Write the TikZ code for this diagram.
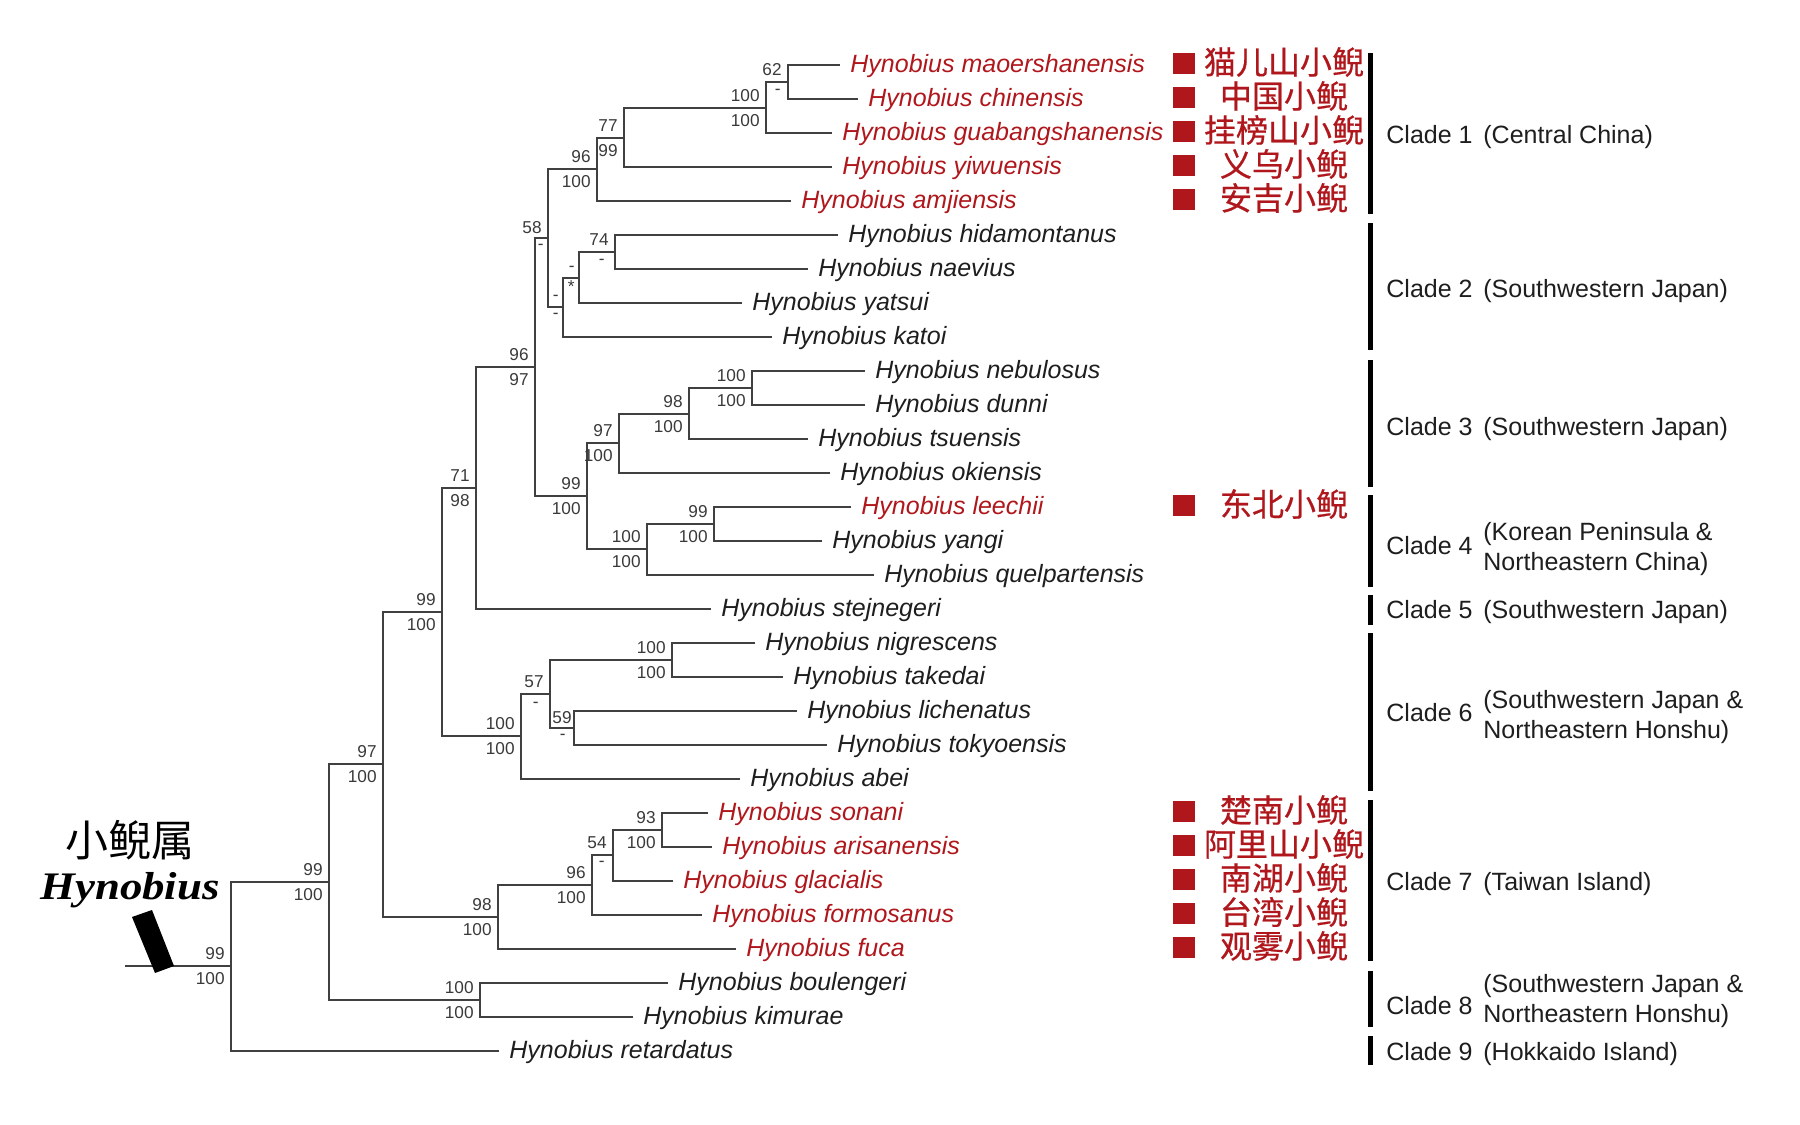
\documentclass[tikz,border=0pt]{standalone}
\usepackage{fontspec}
\setmainfont{Liberation Sans}
\newfontfamily\spfont[WordSpace=1.45]{Liberation Sans}
\newfontfamily\cladefont{Liberation Sans}
\newfontfamily\cnfont{Noto Sans CJK SC}
\newfontfamily\cnbold[FakeBold=0.6]{Noto Sans CJK SC}
\newfontfamily\genfont[FakeStretch=1.15]{Liberation Serif}
\usepackage{tikz}
\usetikzlibrary{calc,positioning}

\definecolor{hred}{HTML}{B0171C}
\definecolor{treegray}{HTML}{404040}
\definecolor{leafblack}{HTML}{1E1E1E}
\definecolor{bsgray}{HTML}{3A3A3A}

\tikzset{
  branch/.style={draw=treegray, line width=0.65pt},
  leaf/.style={anchor=west, inner xsep=5pt, inner ysep=0pt, text height=7pt, text depth=0pt,
    font=\spfont\itshape\fontsize{12.5}{15}\selectfont, text=leafblack},
  rleaf/.style={leaf, text=hred},
  bs/.style={anchor=east, inner sep=0pt, font=\fontsize{8.6}{10}\selectfont, text=bsgray},
  bsu/.style={bs, shift={(-6,-12)}},
  bsl/.style={bs, shift={(-6,13)}},
  cladebar/.style={line width=2.5pt, black},
  cladelab/.style={anchor=west, inner sep=0pt, text height=9pt, text depth=0pt,
    font=\cladefont\fontsize{12.5}{15}\selectfont, text=leafblack},
  cladedesc/.style={anchor=west, inner sep=0pt, align=left,
    font=\cladefont\fontsize{12.5}{15}\selectfont, text=leafblack},
  redsq/.style={fill=hred, minimum width=11pt, minimum height=10.5pt, inner sep=0pt},
  cnlab/.style={inner sep=0pt, font=\cnbold\fontsize{16}{18}\selectfont, text=hred}
}

\begin{document}
\begin{tikzpicture}[x=0.5pt, y=-0.5pt]
\useasboundingbox (0,0) rectangle (1800,1125);

% Internal nodes of the tree
\coordinate (nA) at (788,82);
\coordinate (nB) at (766,108);
\coordinate (nC) at (624,138);
\coordinate (nD) at (597,169);
\coordinate (nE) at (615,252);
\coordinate (nF) at (579,278);
\coordinate (nG) at (563,307);
\coordinate (nH) at (548,238);
\coordinate (nI) at (752,388);
\coordinate (nJ) at (689,414);
\coordinate (nK) at (619,443);
\coordinate (nL) at (714,524);
\coordinate (nM) at (647,549);
\coordinate (nN) at (587,496);
\coordinate (nO) at (535,367);
\coordinate (nP) at (476,488);
\coordinate (nQ) at (672,660);
\coordinate (nR) at (574,728);
\coordinate (nS) at (550,694);
\coordinate (nT) at (521,736);
\coordinate (nU) at (442,612);
\coordinate (nV) at (662,830);
\coordinate (nW) at (613,855);
\coordinate (nX) at (592,885);
\coordinate (nY) at (498,917);
\coordinate (nZ) at (383,764);
\coordinate (nBK) at (480,1000);
\coordinate (nAA) at (329,882);
\coordinate (root) at (231,966);
\coordinate (stem) at (125,966);

% Leaves
\node[rleaf] (maoer) at (840,65) {Hynobius maoershanensis};
\node[rleaf] (chin) at (858,99) {Hynobius chinensis};
\node[rleaf] (guab) at (832,133) {Hynobius guabangshanensis};
\node[rleaf] (yiwu) at (832,167) {Hynobius yiwuensis};
\node[rleaf] (amji) at (791,201) {Hynobius amjiensis};
\node[leaf] (hida) at (838,235) {Hynobius hidamontanus};
\node[leaf] (naev) at (808,269) {Hynobius naevius};
\node[leaf] (yats) at (742,303) {Hynobius yatsui};
\node[leaf] (kato) at (772,337) {Hynobius katoi};
\node[leaf] (nebu) at (865,371) {Hynobius nebulosus};
\node[leaf] (dunn) at (865,405) {Hynobius dunni};
\node[leaf] (tsue) at (808,439) {Hynobius tsuensis};
\node[leaf] (okie) at (830,473) {Hynobius okiensis};
\node[rleaf] (leec) at (851,507) {Hynobius leechii};
\node[leaf] (yang) at (822,541) {Hynobius yangi};
\node[leaf] (quel) at (874,575) {Hynobius quelpartensis};
\node[leaf] (stej) at (711,609) {Hynobius stejnegeri};
\node[leaf] (nigr) at (755,643) {Hynobius nigrescens};
\node[leaf] (take) at (783,677) {Hynobius takedai};
\node[leaf] (lich) at (797,711) {Hynobius lichenatus};
\node[leaf] (toky) at (827,745) {Hynobius tokyoensis};
\node[leaf] (abei) at (740,779) {Hynobius abei};
\node[rleaf] (sona) at (708,813) {Hynobius sonani};
\node[rleaf] (aris) at (712,847) {Hynobius arisanensis};
\node[rleaf] (glac) at (673,881) {Hynobius glacialis};
\node[rleaf] (form) at (702,915) {Hynobius formosanus};
\node[rleaf] (fuca) at (736,949) {Hynobius fuca};
\node[leaf] (boul) at (668,983) {Hynobius boulengeri};
\node[leaf] (kimu) at (633,1017) {Hynobius kimurae};
\node[leaf] (reta) at (499,1051) {Hynobius retardatus};

% Branches
\draw[branch] (nA) |- (maoer.west);
\draw[branch] (nA) |- (chin.west);
\draw[branch] (nB) |- (nA);
\draw[branch] (nB) |- (guab.west);
\draw[branch] (nC) |- (nB);
\draw[branch] (nC) |- (yiwu.west);
\draw[branch] (nD) |- (nC);
\draw[branch] (nD) |- (amji.west);
\draw[branch] (nE) |- (hida.west);
\draw[branch] (nE) |- (naev.west);
\draw[branch] (nF) |- (nE);
\draw[branch] (nF) |- (yats.west);
\draw[branch] (nG) |- (nF);
\draw[branch] (nG) |- (kato.west);
\draw[branch] (nH) |- (nD);
\draw[branch] (nH) |- (nG);
\draw[branch] (nI) |- (nebu.west);
\draw[branch] (nI) |- (dunn.west);
\draw[branch] (nJ) |- (nI);
\draw[branch] (nJ) |- (tsue.west);
\draw[branch] (nK) |- (nJ);
\draw[branch] (nK) |- (okie.west);
\draw[branch] (nL) |- (leec.west);
\draw[branch] (nL) |- (yang.west);
\draw[branch] (nM) |- (nL);
\draw[branch] (nM) |- (quel.west);
\draw[branch] (nN) |- (nK);
\draw[branch] (nN) |- (nM);
\draw[branch] (nO) |- (nH);
\draw[branch] (nO) |- (nN);
\draw[branch] (nP) |- (nO);
\draw[branch] (nP) |- (stej.west);
\draw[branch] (nQ) |- (nigr.west);
\draw[branch] (nQ) |- (take.west);
\draw[branch] (nR) |- (lich.west);
\draw[branch] (nR) |- (toky.west);
\draw[branch] (nS) |- (nQ);
\draw[branch] (nS) |- (nR);
\draw[branch] (nT) |- (nS);
\draw[branch] (nT) |- (abei.west);
\draw[branch] (nU) |- (nP);
\draw[branch] (nU) |- (nT);
\draw[branch] (nV) |- (sona.west);
\draw[branch] (nV) |- (aris.west);
\draw[branch] (nW) |- (nV);
\draw[branch] (nW) |- (glac.west);
\draw[branch] (nX) |- (nW);
\draw[branch] (nX) |- (form.west);
\draw[branch] (nY) |- (nX);
\draw[branch] (nY) |- (fuca.west);
\draw[branch] (nZ) |- (nU);
\draw[branch] (nZ) |- (nY);
\draw[branch] (nBK) |- (boul.west);
\draw[branch] (nBK) |- (kimu.west);
\draw[branch] (nAA) |- (nZ);
\draw[branch] (nAA) |- (nBK);
\draw[branch] (root) |- (nAA);
\draw[branch] (root) |- (reta.west);
\draw[branch] (stem) -- (root);

% Support values
\node[bsu] (bA1) at (nA) {62};
\node[bs, shift={(-7,10)}] (bA2) at (nA) {-};
\node[bsu] (bB1) at (nB) {100};
\node[bsl] (bB2) at (nB) {100};
\node[bsu] (bC1) at (nC) {77};
\node[bsl] (bC2) at (nC) {99};
\node[bsu] (bD1) at (nD) {96};
\node[bsl] (bD2) at (nD) {100};
\node[bsu] (bE1) at (nE) {74};
\node[bs, shift={(-10,10)}] (bE2) at (nE) {-};
\node[bs, shift={(-4,-9)}] (bF1) at (nF) {-};
\node[bs, shift={(-4,9)}] (bF2) at (nF) {*};
\node[bs, shift={(-4,-9)}] (bG1) at (nG) {-};
\node[bs, shift={(-4,9)}] (bG2) at (nG) {-};
\node[bs, shift={(-6,-10)}] (bH1) at (nH) {58};
\node[bs, shift={(-4,9)}] (bH2) at (nH) {-};
\node[bsu] (bI1) at (nI) {100};
\node[bsl] (bI2) at (nI) {100};
\node[bsu] (bJ1) at (nJ) {98};
\node[bsl] (bJ2) at (nJ) {100};
\node[bsu] (bK1) at (nK) {97};
\node[bsl] (bK2) at (nK) {100};
\node[bsu] (bL1) at (nL) {99};
\node[bsl] (bL2) at (nL) {100};
\node[bsu] (bM1) at (nM) {100};
\node[bsl] (bM2) at (nM) {100};
\node[bsu] (bN1) at (nN) {99};
\node[bsl] (bN2) at (nN) {100};
\node[bsu] (bO1) at (nO) {96};
\node[bsl] (bO2) at (nO) {97};
\node[bsu] (bP1) at (nP) {71};
\node[bsl] (bP2) at (nP) {98};
\node[bsu] (bQ1) at (nQ) {100};
\node[bsl] (bQ2) at (nQ) {100};
\node[bs, shift={(-2,-10)}] (bR1) at (nR) {59};
\node[bs, shift={(-8,9)}] (bR2) at (nR) {-};
\node[bsu] (bS1) at (nS) {57};
\node[bs, shift={(-11,11)}] (bS2) at (nS) {-};
\node[bsu] (bT1) at (nT) {100};
\node[bsl] (bT2) at (nT) {100};
\node[bsu] (bU1) at (nU) {99};
\node[bsl] (bU2) at (nU) {100};
\node[bsu] (bV1) at (nV) {93};
\node[bsl] (bV2) at (nV) {100};
\node[bsu] (bW1) at (nW) {54};
\node[bs, shift={(-8,9)}] (bW2) at (nW) {-};
\node[bsu] (bX1) at (nX) {96};
\node[bsl] (bX2) at (nX) {100};
\node[bsu] (bY1) at (nY) {98};
\node[bsl] (bY2) at (nY) {100};
\node[bsu] (bZ1) at (nZ) {97};
\node[bsl] (bZ2) at (nZ) {100};
\node[bsu] (bBK1) at (nBK) {100};
\node[bsl] (bBK2) at (nBK) {100};
\node[bsu] (bAA1) at (nAA) {99};
\node[bsl] (bAA2) at (nAA) {100};
\node[bsu] (br1) at (root) {99};
\node[bsl] (br2) at (root) {100};

% Genus label and stem mark
\fill (132,917) -- (152,910) -- (174,966) -- (155,973) -- cycle;
\node[inner sep=0pt, font=\cnfont\fontsize{21.5}{24}\selectfont] (gcn) at (130,840) {小鲵属};
\node[anchor=base, inner sep=0pt, font=\genfont\bfseries\itshape\fontsize{19.5}{22}\selectfont] (glat) at (130,899) {Hynobius};

% Chinese names with red squares
\node[redsq] (q1) at (1184,63) {};
\node[cnlab] (z1) at (1284,62) {猫儿山小鲵};
\node[redsq] (q2) at (1184,97) {};
\node[cnlab] (z2) at (1284,96) {中国小鲵};
\node[redsq] (q3) at (1184,131) {};
\node[cnlab] (z3) at (1284,130) {挂榜山小鲵};
\node[redsq] (q4) at (1184,165) {};
\node[cnlab] (z4) at (1284,164) {义乌小鲵};
\node[redsq] (q5) at (1184,199) {};
\node[cnlab] (z5) at (1284,198) {安吉小鲵};
\node[redsq] (q14) at (1184,505) {};
\node[cnlab] (z14) at (1284,504) {东北小鲵};
\node[redsq] (q23) at (1184,811) {};
\node[cnlab] (z23) at (1284,810) {楚南小鲵};
\node[redsq] (q24) at (1184,845) {};
\node[cnlab] (z24) at (1284,844) {阿里山小鲵};
\node[redsq] (q25) at (1184,879) {};
\node[cnlab] (z25) at (1284,878) {南湖小鲵};
\node[redsq] (q26) at (1184,913) {};
\node[cnlab] (z26) at (1284,912) {台湾小鲵};
\node[redsq] (q27) at (1184,947) {};
\node[cnlab] (z27) at (1284,946) {观雾小鲵};

% Clade bars
\draw[cladebar] (1370,53) -- (1370,214);
\draw[cladebar] (1370,223) -- (1370,350);
\draw[cladebar] (1370,360) -- (1370,487);
\draw[cladebar] (1370,495) -- (1370,587);
\draw[cladebar] (1370,595) -- (1370,625);
\draw[cladebar] (1370,633) -- (1370,791);
\draw[cladebar] (1370,800) -- (1370,961);
\draw[cladebar] (1370,971) -- (1370,1027);
\draw[cladebar] (1370,1036) -- (1370,1065);

% Clade labels
\node[cladelab] (cl1) at (1386,134) {Clade 1};
\node[cladelab] (cd1) at (1483,134) {(Central China)};
\node[cladelab] (cl2) at (1386,288) {Clade 2};
\node[cladelab] (cd2) at (1483,288) {(Southwestern Japan)};
\node[cladelab] (cl3) at (1386,426) {Clade 3};
\node[cladelab] (cd3) at (1483,426) {(Southwestern Japan)};
\node[cladelab] (cl4) at (1386,545) {Clade 4};
\node[cladedesc] (cd4) at (1483,549) {(Korean Peninsula \&\\Northeastern China)};
\node[cladelab] (cl5) at (1386,609) {Clade 5};
\node[cladelab] (cd5) at (1483,609) {(Southwestern Japan)};
\node[cladelab] (cl6) at (1386,712) {Clade 6};
\node[cladedesc] (cd6) at (1483,717) {(Southwestern Japan \&\\Northeastern Honshu)};
\node[cladelab] (cl7) at (1386,881) {Clade 7};
\node[cladelab] (cd7) at (1483,881) {(Taiwan Island)};
\node[cladelab] (cl8) at (1386,1005) {Clade 8};
\node[cladedesc] (cd8) at (1483,1001) {(Southwestern Japan \&\\Northeastern Honshu)};
\node[cladelab] (cl9) at (1386,1051) {Clade 9};
\node[cladelab] (cd9) at (1483,1051) {(Hokkaido Island)};

\end{tikzpicture}
\end{document}
